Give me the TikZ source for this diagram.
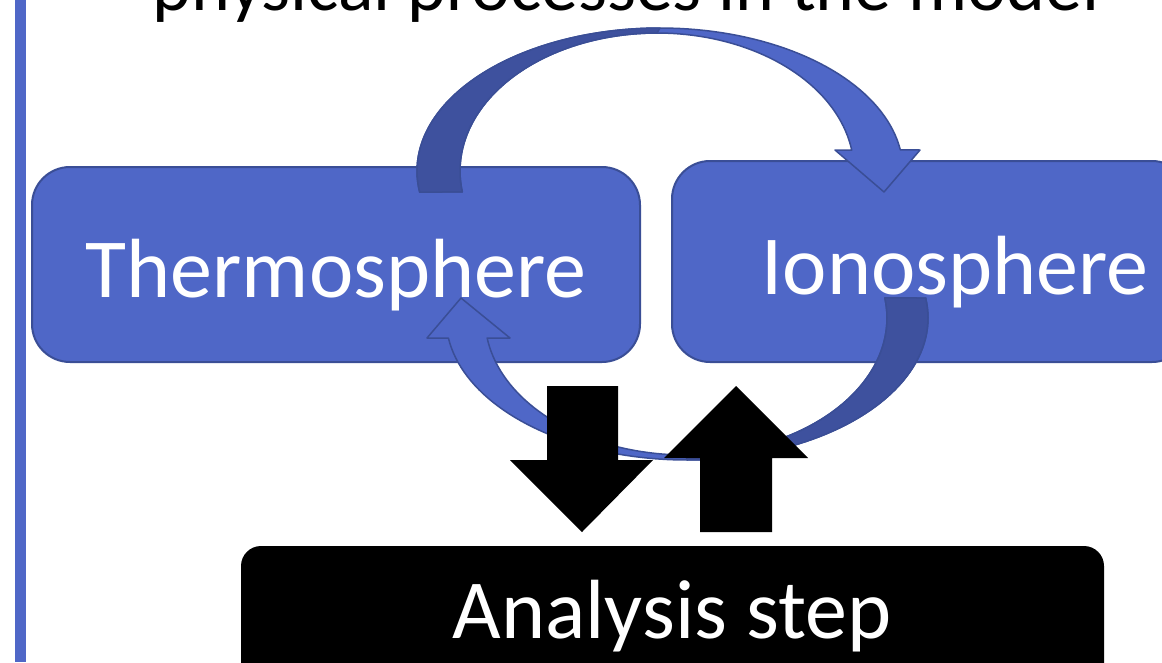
\documentclass[tikz,border=0pt]{standalone}
\usepackage{fontspec}
\setmainfont{Carlito}
\definecolor{boxblue}{RGB}{79,103,199}
\definecolor{edgeblue}{RGB}{58,78,150}
\definecolor{darkblue}{RGB}{62,81,158}
\begin{document}
\begin{tikzpicture}[x=1pt,y=-1pt,
  bluebox/.style={draw=edgeblue, line width=2pt, fill=boxblue, rounded corners=38pt, inner sep=0pt},
  blackbox/.style={fill=black, rounded corners=20pt, inner sep=0pt},
  boxtext/.style={text=white, font=\fontsize{84}{100}\selectfont, inner sep=0pt, anchor=base},
  titletext/.style={text=black, font=\fontsize{74}{90}\selectfont, inner sep=0pt, anchor=base},
  lightarrow/.style={fill=boxblue, draw=edgeblue, line width=1.5pt, line join=round},
  darkarrow/.style={fill=darkblue, draw=edgeblue, line width=1.5pt, line join=round},
  blockarrow/.style={fill=black}]
\useasboundingbox (0,0) rectangle (1162,662);
\clip (0,0) rectangle (1162,662);
% left bar
\fill[boxblue] (15,0) rectangle (26,662);
% title
\node[titletext] (title) at (626,10) {physical processes in the model};
% boxes
\node[bluebox, minimum width=608pt, minimum height=195pt] (thermo) at (336,264.5) {};
\node[bluebox, minimum width=518pt, minimum height=201pt] (iono) at (931,261.5) {};
\node[blackbox, minimum width=863pt, minimum height=154pt] (analysis) at (672.5,623) {};
% labels
\node[boxtext] (thermolabel) at (336,297) {Thermosphere};
\node[boxtext] (ionolabel) at (955,294) {Ionosphere};
\node[boxtext] (analysislabel) at (672,638) {Analysis step};
% top curved arrow
\path[lightarrow] (420,192) -- plot[domain=171.5:351.5, samples=90] ({660+243*cos(\x)},{171+143*sin(\x)})
  -- (920,150) -- (884,192) -- (835,150)
  -- plot[domain=351.3:171.3, samples=90] ({657+197*cos(\x)},{171+138*sin(\x)}) -- cycle;
\path[darkarrow] plot[domain=171.5:270, samples=60] ({660+243*cos(\x)},{171+143*sin(\x)})
  -- plot[domain=270:171.3, samples=60] ({657+197*cos(\x)},{171+138*sin(\x)}) -- cycle;
% bottom curved arrow
\path[lightarrow] (926,298) -- plot[domain=-8.1:171.9, samples=90] ({687+241*cos(\x)},{318+142*sin(\x)})
  -- (427,338) -- (461,298) -- (510,338)
  -- plot[domain=171.6:-8.4, samples=90] ({686+201*cos(\x)},{318+137*sin(\x)}) -- cycle;
\path[darkarrow] plot[domain=-8.1:90, samples=60] ({687+241*cos(\x)},{318+142*sin(\x)})
  -- plot[domain=90:-8.4, samples=60] ({686+201*cos(\x)},{318+137*sin(\x)}) -- cycle;
% black block arrows
\path[blockarrow] (547,386) -- (618,386) -- (618,460) -- (653,460) -- (582,532) -- (510,460) -- (547,460) -- cycle;
\path[blockarrow] (736,386) -- (808,458) -- (772,458) -- (772,532) -- (700,532) -- (700,458) -- (664,458) -- cycle;
\end{tikzpicture}
\end{document}
